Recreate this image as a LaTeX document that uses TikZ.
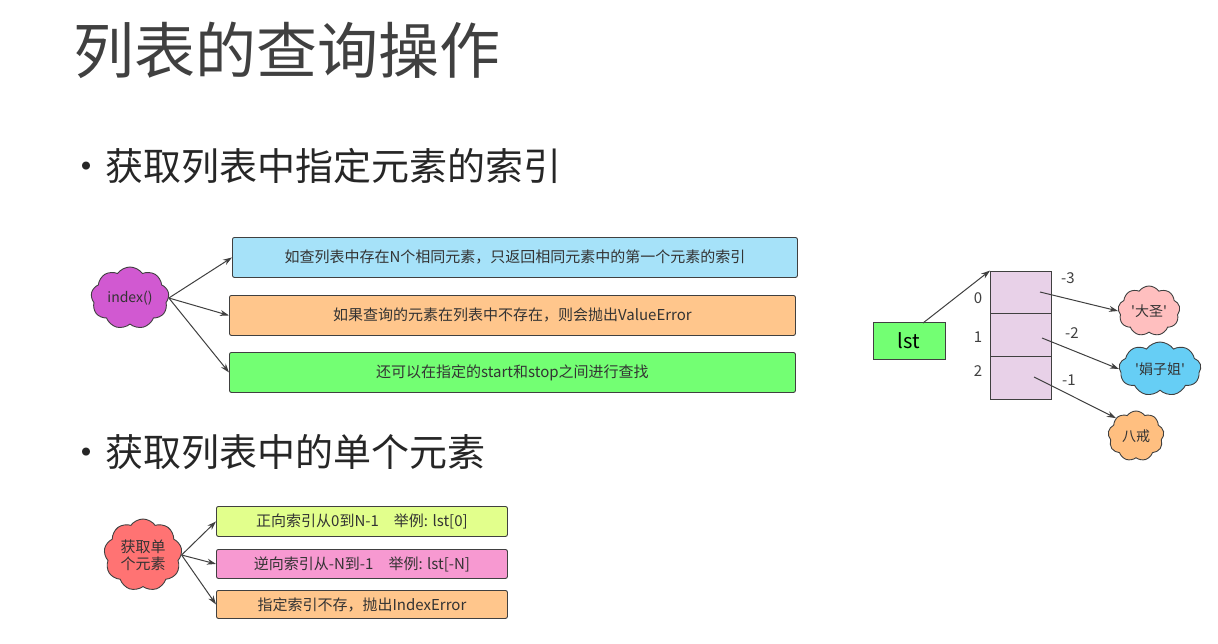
\documentclass[tikz,border=0pt]{standalone}
\usepackage{fontspec}
\setmainfont{Noto Sans CJK SC}[Ligatures=TeXReset]
\usetikzlibrary{shapes.symbols,arrows.meta}
\begin{document}
\begin{tikzpicture}[x=1pt,y=-1pt,
  bx/.style={draw=black!75,line width=0.9pt,rounded corners=2pt,anchor=north west,font=\fontsize{15}{17}\selectfont,text=black!80},
  cl/.style={cloud,cloud puffs=9,cloud puff arc=110,cloud ignores aspect,draw=black!75,line width=0.9pt,inner sep=0pt,font=\fontsize{14}{16}\selectfont,text=black!80},
  ar/.style={-{Stealth[length=9pt,width=6pt]},draw=black!75,line width=1pt},
  lab/.style={font=\fontsize{15}{17}\selectfont,text=black!75}]
\useasboundingbox (0,0) rectangle (1218,643);
\fill[white] (0,0) rectangle (1218,643);
\node[anchor=west,font=\fontsize{61}{64}\selectfont,text=black!75] (title) at (70,50) {列表的查询操作};
\node[anchor=west,font=\fontsize{38}{42}\selectfont,text=black!85] (b1) at (64,166) {•获取列表中指定元素的索引};
\node[anchor=west,font=\fontsize{38}{42}\selectfont,text=black!85] (b2) at (64,452) {•获取列表中的单个元素};
% index group
\node[cl,fill=violet!55!magenta!65,minimum width=78pt,minimum height=62pt] (idx) at (130,298) {index()};
\node[bx,fill=cyan!35,minimum width=565pt,minimum height=40pt] (c1) at (232,237) {如查列表中存在N个相同元素，只返回相同元素中的第一个元素的索引};
\node[bx,fill=orange!45,minimum width=566pt,minimum height=40pt] (c2) at (229,295) {如果查询的元素在列表中不存在，则会抛出ValueError};
\node[bx,fill=green!55!white,minimum width=566pt,minimum height=40pt] (c3) at (229,352) {还可以在指定的start和stop之间进行查找};
\draw[ar] (idx.east) -- (c1.west);
\draw[ar] (idx.east) -- (c2.west);
\draw[ar] (idx.east) -- (c3.west);
% list diagram
\node[draw=black!75,line width=0.9pt,fill=green!55!white,minimum width=72pt,minimum height=37pt,font=\fontsize{20}{22}\selectfont] (lst) at (909,341) {lst};
\node[draw=black!75,line width=0.9pt,fill=violet!18,minimum width=61pt,minimum height=42pt] (e0) at (1021,292) {};
\node[draw=black!75,line width=0.9pt,fill=violet!18,minimum width=61pt,minimum height=43pt] (e1) at (1021,334.5) {};
\node[draw=black!75,line width=0.9pt,fill=violet!18,minimum width=61pt,minimum height=43pt] (e2) at (1021,377.5) {};
\node[lab] (i0) at (978,298) {0};
\node[lab] (i1) at (978,337) {1};
\node[lab] (i2) at (978,371) {2};
\node[lab] (n3) at (1068,278) {-3};
\node[lab] (n2) at (1072,333) {-2};
\node[lab] (n1) at (1069,380) {-1};
\node[cl,fill=red!25,minimum width=62pt,minimum height=50pt] (d1) at (1149,311) {'大圣'};
\node[cl,fill=cyan!60,minimum width=82pt,minimum height=54pt] (d2) at (1160,369) {'娟子姐'};
\node[cl,fill=orange!50,minimum width=56pt,minimum height=50pt] (d3) at (1136,436) {八戒};
\coordinate (p0) at (1040,292);
\coordinate (p1) at (1042,338);
\coordinate (p2) at (1034,377);
\coordinate (q) at (923,323);
\draw[ar] (q) -- (e0.north west);
\draw[ar] (p0) -- (d1.west);
\draw[ar] (p1) -- (d2.west);
\draw[ar] (p2) -- (d3.north west);
% single element group
\node[cl,fill=red!55,minimum width=78pt,minimum height=72pt,align=center,font=\fontsize{15}{17}\selectfont] (g) at (143,555) {获取单\\个元素};
\node[bx,fill=lime!45,minimum width=291pt,minimum height=30pt] (s1) at (216,506) {正向索引从0到N-1\quad 举例: lst[0]};
\node[bx,fill=magenta!40,minimum width=291pt,minimum height=29pt] (s2) at (216,549) {逆向索引从-N到-1\quad 举例: lst[-N]};
\node[bx,fill=orange!45,minimum width=291pt,minimum height=28pt] (s3) at (216,590) {指定索引不存，抛出IndexError};
\draw[ar] (g.east) -- (s1.west);
\draw[ar] (g.east) -- (s2.west);
\draw[ar] (g.east) -- (s3.west);
\end{tikzpicture}
\end{document}
